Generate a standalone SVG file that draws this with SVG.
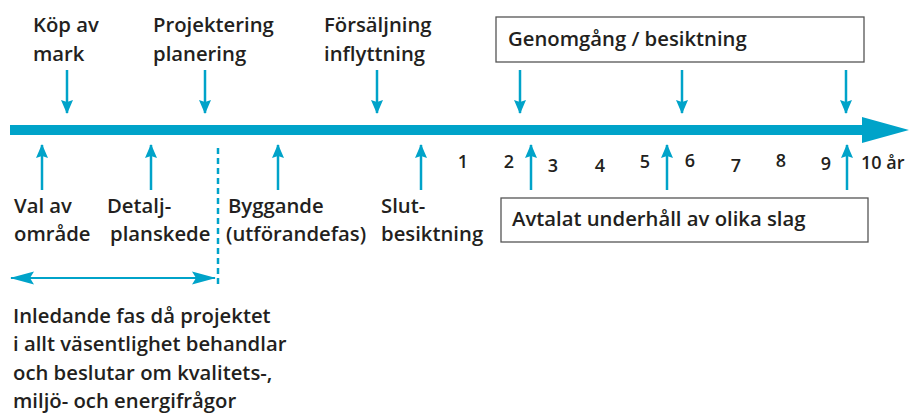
<svg xmlns="http://www.w3.org/2000/svg" width="912" height="414" viewBox="0 0 912 414">
<defs>
<style>
.t{font-family:"Open Sans","Liberation Sans",sans-serif;font-weight:600;font-size:20.3px;fill:#231f20}
.n{font-family:"Open Sans","Liberation Sans",sans-serif;font-weight:600;font-size:18px;fill:#231f20}
.a{stroke:#00a3c9;stroke-width:2.5;fill:none;marker-end:url(#ah)}
.box{fill:#fff;stroke:#555;stroke-width:1.3}
</style>
<marker id="ah" markerUnits="userSpaceOnUse" markerWidth="14" markerHeight="14" refX="13" refY="7" orient="auto" viewBox="0 0 14 14">
<path d="M0,1 L14,7 L0,13 L2,7 z" fill="#00a3c9"/>
</marker>
<marker id="dh" markerUnits="userSpaceOnUse" markerWidth="24" markerHeight="14" refX="23" refY="7" orient="auto-start-reverse" viewBox="0 0 24 14">
<path d="M0,0.5 L24,7 L0,13.5 L4,7 z" fill="#00a3c9"/>
</marker>
</defs>
<rect width="912" height="414" fill="#fff"/>
<g id="timeline">
<path d="M10,125 L862,125 L862,117 L909,130 L862,143 L862,135 L10,135 z" fill="#00a3c9"/>
</g>
<g id="connectors">
<line class="a" x1="67" y1="70" x2="67" y2="113"/>
<line class="a" x1="205" y1="70" x2="205" y2="113"/>
<line class="a" x1="377" y1="70" x2="377" y2="113"/>
<line class="a" x1="520" y1="70" x2="520" y2="113"/>
<line class="a" x1="682" y1="70" x2="682" y2="113"/>
<line class="a" x1="846" y1="70" x2="846" y2="113"/>
<line class="a" x1="42" y1="190" x2="42" y2="145"/>
<line class="a" x1="151" y1="190" x2="151" y2="145"/>
<line class="a" x1="278" y1="190" x2="278" y2="145"/>
<line class="a" x1="421" y1="190" x2="421" y2="145"/>
<line class="a" x1="531" y1="190" x2="531" y2="145"/>
<line class="a" x1="667" y1="190" x2="667" y2="145"/>
<line class="a" x1="847" y1="190" x2="847" y2="145"/>
<line x1="218" y1="148" x2="218" y2="284" stroke="#00a3c9" stroke-width="2.5" stroke-dasharray="6,4"/>
<line x1="11" y1="278" x2="215" y2="278" stroke="#00a3c9" stroke-width="2" marker-start="url(#dh)" marker-end="url(#dh)"/>
</g>
<g id="kop"><text class="t" x="33" y="32">Köp av</text><text class="t" x="33" y="61">mark</text></g>
<g id="projektering"><text class="t" x="153" y="32">Projektering</text><text class="t" x="153" y="61">planering</text></g>
<g id="forsaljning"><text class="t" x="324" y="32">Försäljning</text><text class="t" x="324" y="61">inflyttning</text></g>
<g id="genomgang"><rect class="box" x="496" y="17" width="368" height="45"/><text class="t" x="508" y="46">Genomgång / besiktning</text></g>
<g id="val"><text class="t" x="14" y="213">Val av</text><text class="t" x="14" y="241">område</text></g>
<g id="detalj"><text class="t" x="107" y="213">Detalj-</text><text class="t" x="110" y="241">planskede</text></g>
<g id="byggande"><text class="t" x="228" y="213">Byggande</text><text class="t" x="226" y="241">(utförandefas)</text></g>
<g id="slut"><text class="t" x="381" y="213">Slut-</text><text class="t" x="381" y="241">besiktning</text></g>
<g id="avtalat"><rect class="box" x="501" y="198" width="367" height="44"/><text class="t" x="512" y="226">Avtalat underhåll av olika slag</text></g>
<g id="years">
<text class="n" x="463" y="168" text-anchor="middle">1</text>
<text class="n" x="509" y="168" text-anchor="middle">2</text>
<text class="n" x="553" y="172" text-anchor="middle">3</text>
<text class="n" x="600" y="172" text-anchor="middle">4</text>
<text class="n" x="645" y="168" text-anchor="middle">5</text>
<text class="n" x="690" y="167" text-anchor="middle">6</text>
<text class="n" x="736" y="172" text-anchor="middle">7</text>
<text class="n" x="781" y="167" text-anchor="middle">8</text>
<text class="n" x="826" y="170" text-anchor="middle">9</text>
<text class="n" x="861" y="169">10 år</text>
</g>
<g id="inledande">
<text class="t" x="13" y="323">Inledande fas då projektet</text>
<text class="t" x="13" y="351">i allt väsentlighet behandlar</text>
<text class="t" x="13" y="380">och beslutar om kvalitets-,</text>
<text class="t" x="13" y="408">miljö- och energifrågor</text>
</g>
</svg>
